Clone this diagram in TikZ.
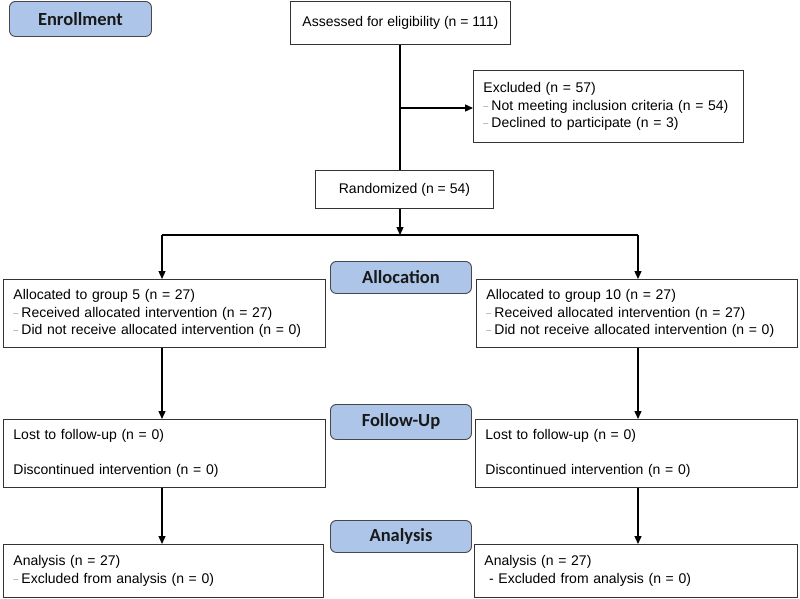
\documentclass[tikz,border=0pt]{standalone}
\usepackage{fontspec}
\setmainfont{Liberation Sans}
\newfontfamily\labfont{Carlito}
\usetikzlibrary{arrows.meta}
\definecolor{labfill}{RGB}{172,197,232}
\definecolor{labdraw}{RGB}{70,70,75}
\newcommand\dsh{{\color{black!45}\fontsize{9}{9}\selectfont\raisebox{0.6pt}{–}}\hspace{3pt}}
\tikzset{
  box/.style={draw=black!80, line width=0.9pt, fill=white, anchor=north west, inner sep=0pt,
    font=\fontsize{14}{17.5}\selectfont},
  lbox/.style={box, align=left, inner xsep=10pt},
  label/.style={draw=labdraw, line width=0.9pt, fill=labfill, rounded corners=6pt, anchor=north west,
    inner sep=0pt, font=\labfont\bfseries\fontsize{18.5}{20}\selectfont, text=black!90},
  conn/.style={line width=1.3pt, black},
  arr/.style={conn, -{Triangle[length=8pt,width=7pt]}}
}
\begin{document}
\begin{tikzpicture}[x=1pt,y=-1pt]
\useasboundingbox (0,0) rectangle (800,598);
% labels
\node[label, minimum width=142pt, minimum height=35pt] (enr) at (9,1) {Enrollment};
\node[label, minimum width=141pt, minimum height=32pt] (lalloc) at (330,261) {Allocation};
\node[label, minimum width=141pt, minimum height=35pt] (lfol) at (330,404) {Follow-Up};
\node[label, minimum width=141pt, minimum height=32pt] (lana) at (330,520) {Analysis};
% boxes
\node[box, minimum width=220pt, minimum height=43pt] (ass) at (290,1) {Assessed for eligibility (n = 111)};
\node[lbox, minimum width=270pt, minimum height=72pt, text width=250pt] (exc) at (473,70)
  {Excluded (n = 57)\\\dsh Not meeting inclusion criteria (n = 54)\\\dsh Declined to participate (n = 3)};
\node[box, minimum width=178pt, minimum height=38pt] (ran) at (315,170) {Randomized (n = 54)};
\node[lbox, minimum width=322pt, minimum height=68pt, text width=302pt] (a5) at (3,279)
  {Allocated to group 5 (n = 27)\\\dsh Received allocated intervention (n = 27)\\\dsh Did not receive allocated intervention (n = 0)};
\node[lbox, minimum width=321pt, minimum height=68pt, text width=301pt] (a10) at (476,279)
  {Allocated to group 10 (n = 27)\\\dsh Received allocated intervention (n = 27)\\\dsh Did not receive allocated intervention (n = 0)};
\node[lbox, minimum width=322pt, minimum height=68pt, text width=302pt] (f5) at (3,419)
  {Lost to follow-up (n = 0)\\[17.5pt]Discontinued intervention (n = 0)};
\node[lbox, minimum width=322pt, minimum height=68pt, text width=302pt] (f10) at (475,419)
  {Lost to follow-up (n = 0)\\[17.5pt]Discontinued intervention (n = 0)};
\node[lbox, minimum width=320pt, minimum height=53pt, text width=300pt] (n5) at (3,544)
  {Analysis (n = 27)\\\dsh Excluded from analysis (n = 0)};
\node[lbox, minimum width=323pt, minimum height=53pt, text width=303pt] (n10) at (474,544)
  {Analysis (n = 27)\\\ - Excluded from analysis (n = 0)};
% connectors
\coordinate (exbr) at (400,108);
\coordinate (spl) at (400,235);
\coordinate (sl) at (162,235);
\coordinate (sr) at (638,235);
\draw[conn] (ass.south -| spl) -- (ran.north -| spl);
\draw[arr] (exbr) -- (exbr -| exc.west);
\draw[arr] (ran.south -| spl) -- (spl);
\draw[conn] (sl) -- (sr);
\draw[arr] (sl) -- (sl |- a5.north);
\draw[arr] (sr) -- (sr |- a10.north);
\draw[arr] (a5.south -| sl) -- (sl |- f5.north);
\draw[arr] (a10.south -| sr) -- (sr |- f10.north);
\draw[arr] (f5.south -| sl) -- (sl |- n5.north);
\draw[arr] (f10.south -| sr) -- (sr |- n10.north);
\end{tikzpicture}
\end{document}
